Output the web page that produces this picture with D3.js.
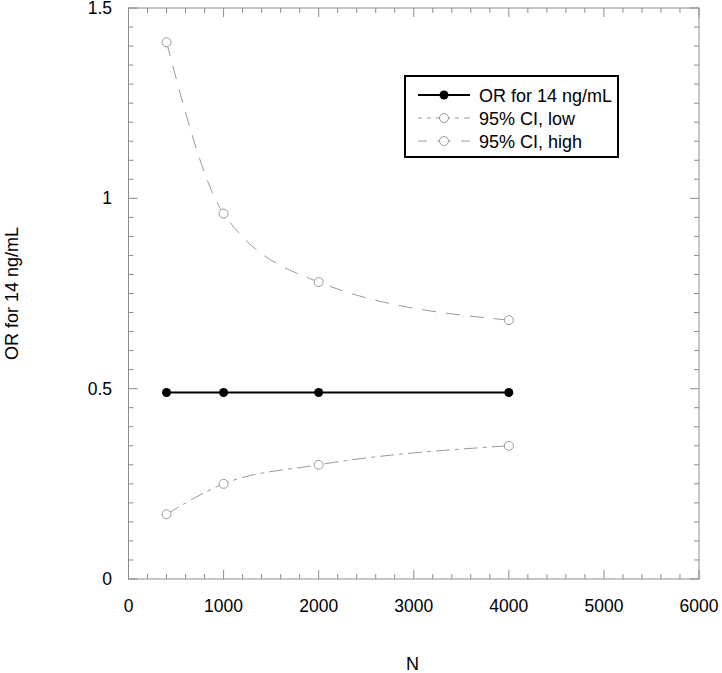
<!DOCTYPE html>
<html><head><meta charset="utf-8">
<script src="https://cdn.jsdelivr.net/npm/d3@7"></script>
<style>body{margin:0;background:#fff}svg{display:block}text{font-family:"Liberation Sans",Arial,sans-serif;fill:#000}</style>
</head><body><svg id="c" width="722" height="673"></svg>
<script>
const N = [400, 1000, 2000, 4000];
const orValues = [0.49, 0.49, 0.49, 0.49];
const ciLow = [0.17, 0.25, 0.30, 0.35];
const ciHigh = [1.41, 0.96, 0.78, 0.68];
const xTicks = [0, 1000, 2000, 3000, 4000, 5000, 6000];
const yTicks = [0, 0.5, 1, 1.5];
const seriesNames = ["OR for 14 ng/mL", "95% CI, low", "95% CI, high"];

const svg = d3.select("#c");
const L = 128.5, R = 699, T = 8, B = 579;
const x = d3.scaleLinear().domain([0, 6000]).range([L, R]);
const y = d3.scaleLinear().domain([0, 1.5]).range([B, T]);
const gray = "#9a9a9a";
const fs = 17.5;
const fsT = 18;

// frame
svg.append("rect").attr("x", L).attr("y", T).attr("width", R - L).attr("height", B - T)
  .attr("fill", "none").attr("stroke", "#8c8c8c").attr("stroke-width", 1);

// ticks
const g = svg.append("g").attr("stroke", "#8c8c8c").attr("stroke-width", 1);
d3.range(0, 6001, 200).forEach(v => {
  const major = v % 1000 === 0;
  const len = major ? 9 : 5;
  g.append("line").attr("x1", x(v)).attr("x2", x(v)).attr("y1", B).attr("y2", B - len);
  g.append("line").attr("x1", x(v)).attr("x2", x(v)).attr("y1", T).attr("y2", T + len);
});
d3.range(0, 31).forEach(i => {
  const v = i * 0.05;
  const major = i % 10 === 0;
  const len = major ? 9 : 5;
  g.append("line").attr("y1", y(v)).attr("y2", y(v)).attr("x1", L).attr("x2", L + len);
  g.append("line").attr("y1", y(v)).attr("y2", y(v)).attr("x1", R).attr("x2", R - len);
});

// tick labels
xTicks.forEach(v => svg.append("text").attr("x", x(v)).attr("y", 612).attr("text-anchor", "middle")
  .attr("font-size", fs).text(d3.format("d")(v)));
yTicks.forEach(v => svg.append("text").attr("x", 112).attr("y", y(v) + 6).attr("text-anchor", "end")
  .attr("font-size", fs).text(String(v)));

// axis titles
svg.append("text").attr("x", x(2986)).attr("y", 670).attr("text-anchor", "middle").attr("font-size", fsT).text("N");
svg.append("text").attr("transform", `translate(18,${(T + B) / 2}) rotate(-90)`).attr("text-anchor", "middle")
  .attr("font-size", fsT).text("OR for 14 ng/mL");

// lines
const line = d3.line().x(d => x(d[0])).y(d => y(d[1]));
const smooth = d3.line().x(d => x(d[0])).y(d => y(d[1])).curve(d3.curveMonotoneX);
const zip = vals => N.map((n, i) => [n, vals[i]]);

svg.append("path").attr("d", smooth(zip(ciHigh))).attr("fill", "none").attr("stroke", gray)
  .attr("stroke-width", 1).attr("stroke-dasharray", "14,10");
svg.append("path").attr("d", smooth(zip(ciLow))).attr("fill", "none").attr("stroke", gray)
  .attr("stroke-width", 1).attr("stroke-dasharray", "14,5,4,5");
svg.append("path").attr("d", line(zip(orValues))).attr("fill", "none").attr("stroke", "#000").attr("stroke-width", 2);

svg.selectAll(".ch").data(zip(ciHigh)).join("circle").attr("cx", d => x(d[0])).attr("cy", d => y(d[1]))
  .attr("r", 4.5).attr("fill", "#fff").attr("stroke", gray);
svg.selectAll(".cl").data(zip(ciLow)).join("circle").attr("cx", d => x(d[0])).attr("cy", d => y(d[1]))
  .attr("r", 4.5).attr("fill", "#fff").attr("stroke", gray);
svg.selectAll(".co").data(zip(orValues)).join("circle").attr("cx", d => x(d[0])).attr("cy", d => y(d[1]))
  .attr("r", 4.5).attr("fill", "#000");

// legend
const lg = svg.append("g");
lg.append("rect").attr("x", 405).attr("y", 76).attr("width", 213).attr("height", 81)
  .attr("fill", "#fff").attr("stroke", "#000").attr("stroke-width", 2);
const rows = [95, 118, 141];
lg.append("line").attr("x1", 418).attr("x2", 470).attr("y1", rows[0]).attr("y2", rows[0]).attr("stroke", "#000").attr("stroke-width", 2);
lg.append("circle").attr("cx", 444).attr("cy", rows[0]).attr("r", 4.5).attr("fill", "#000");
lg.append("line").attr("x1", 418).attr("x2", 470).attr("y1", rows[1]).attr("y2", rows[1]).attr("stroke", gray).attr("stroke-dasharray", "14,5,4,5").attr("stroke-dashoffset", 10);
lg.append("circle").attr("cx", 444).attr("cy", rows[1]).attr("r", 4.5).attr("fill", "#fff").attr("stroke", gray);
lg.append("line").attr("x1", 418).attr("x2", 470).attr("y1", rows[2]).attr("y2", rows[2]).attr("stroke", gray).attr("stroke-dasharray", "14,10").attr("stroke-dashoffset", 5);
lg.append("circle").attr("cx", 444).attr("cy", rows[2]).attr("r", 4.5).attr("fill", "#fff").attr("stroke", gray);
seriesNames.forEach((s, i) => lg.append("text").attr("x", 479).attr("y", rows[i] + 6.5).attr("font-size", fsT).text(s));
</script></body></html>
